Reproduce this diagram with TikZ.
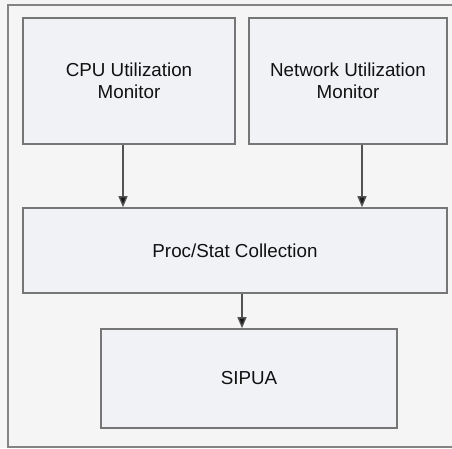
\documentclass[tikz,border=0pt]{standalone}
\usepackage{fontspec}
\setmainfont{Liberation Sans}
\usepackage{tikz}
\usetikzlibrary{arrows.meta}
\definecolor{boxfill}{HTML}{F1F2F6}
\definecolor{backfill}{HTML}{F5F5F5}
\definecolor{edgegray}{HTML}{767676}
\definecolor{textgray}{HTML}{111111}

\begin{document}
\begin{tikzpicture}[x=1pt,y=-1pt,
  block/.style={draw=edgegray, line width=1.6pt, fill=boxfill, inner sep=0pt,
    align=center, text=textgray,
    font=\fontsize{18.8}{22}\selectfont},
  arr/.style={draw=edgegray!70!black, line width=1.3pt,
    -{Triangle[length=11pt,width=9pt,fill=black!90]}}]
\useasboundingbox (0,0) rectangle (452,448);
\clip (0,0) rectangle (452,448);
\fill [backfill] (0,0) rectangle (452,448);
\draw [edgegray!90, line width=1.6pt] (8,5) rectangle (480,447);

\node [block, minimum width=212pt, minimum height=126pt] (cpu) at (129,81)
  {CPU Utilization\\Monitor};
\node [block, minimum width=198pt, minimum height=126pt] (net) at (348,81)
  {Network Utilization\\Monitor};
\node [block, minimum width=424pt, minimum height=85pt] (proc) at (235,250.5)
  {Proc/Stat Collection};
\node [block, minimum width=296pt, minimum height=99pt] (sipua) at (249,378.5)
  {SIPUA};

\draw [arr] ([xshift=-6pt]cpu.south) -- ([xshift=-6pt]cpu.south |- proc.north);
\draw [arr] ([xshift=14pt]net.south) -- ([xshift=14pt]net.south |- proc.north);
\draw [arr] ([xshift=7pt]proc.south) -- ([xshift=7pt]proc.south |- sipua.north);

\end{tikzpicture}
\end{document}
